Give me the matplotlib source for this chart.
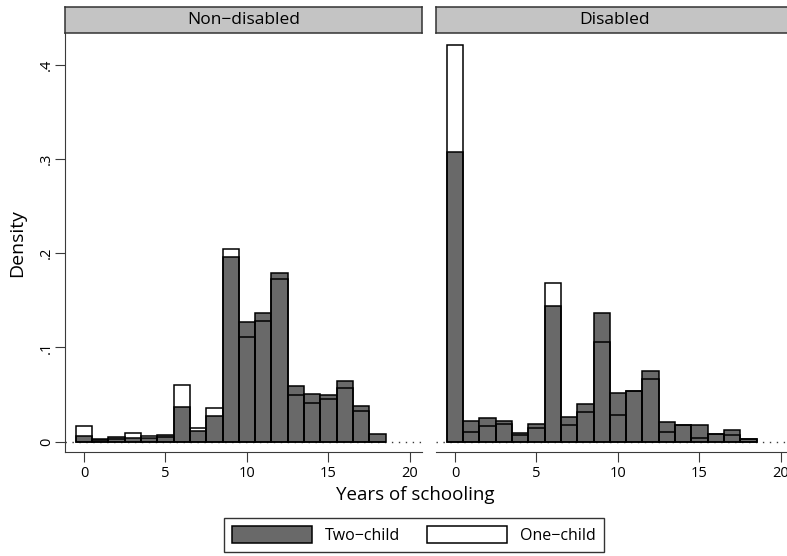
import matplotlib
matplotlib.use("Agg")
import matplotlib.pyplot as plt
from matplotlib.patches import Patch
import numpy as np

plt.rcParams['font.family'] = ['Open Sans', 'DejaVu Sans']

years = list(range(0, 19))
panels = ["Non\u2212disabled", "Disabled"]

nondis_two = [0.0064, 0.003, 0.0055, 0.0042, 0.0042, 0.0074, 0.037, 0.011, 0.027,
              0.1956, 0.1273, 0.1369, 0.1786, 0.0587, 0.0502, 0.0492, 0.064, 0.0375, 0.0081]
nondis_one = [0.017, 0.002, 0.0025, 0.0095, 0.0064, 0.0055, 0.0598, 0.015, 0.0354,
              0.2045, 0.1107, 0.128, 0.1726, 0.0492, 0.0407, 0.0449, 0.0566, 0.0329, 0.0]

dis_two = [0.3077, 0.0223, 0.0248, 0.0216, 0.0096, 0.0187, 0.1436, 0.0258, 0.0396,
           0.1362, 0.0513, 0.0534, 0.075, 0.0212, 0.0177, 0.0177, 0.0078, 0.0124, 0.0028]
dis_one = [0.4213, 0.0106, 0.017, 0.0184, 0.0071, 0.0141, 0.1687, 0.0173, 0.0315,
           0.1054, 0.0283, 0.0534, 0.0669, 0.0106, 0.0177, 0.0042, 0.0078, 0.0071, 0.0028]

xticks = [0, 5, 10, 15, 20]
yticks = [0, 0.1, 0.2, 0.3, 0.4]
ytick_labels = ["0", ".1", ".2", ".3", ".4"]

W, H = 787, 556
fig = plt.figure(figsize=(W / 100, H / 100), dpi=100)

def frac(x0, y0, x1, y1):
    return [x0 / W, 1 - y1 / H, (x1 - x0) / W, (y1 - y0) / H]

gray = '#696969'
axcol = '#3a3a3a'
data = [(nondis_two, nondis_one), (dis_two, dis_one)]
lefts = [65, 436]
width = 356.7

for i, (two, one) in enumerate(data):
    x0 = lefts[i]
    ax = fig.add_axes(frac(x0, 33.3, x0 + width, 452.3))
    ax.set_xlim(-1.166, 20.72)
    ax.set_ylim(-0.01125, 0.4335)
    ax.axhline(0, color=axcol, lw=1.0, ls=(0, (1, 4)), zorder=0)
    ax.bar(years, two, width=1, color=gray, edgecolor='black', lw=1.1, zorder=2)
    ax.bar(years, one, width=1, fill=False, edgecolor='black', lw=1.1, zorder=3)
    for s in ['top', 'right']:
        ax.spines[s].set_visible(False)
    ax.spines['bottom'].set_color(axcol)
    ax.spines['left'].set_color(axcol)
    ax.set_xticks(xticks)
    ax.set_xticklabels([str(t) for t in xticks])
    ax.tick_params(axis='x', length=7, color=axcol, labelsize=10.5, pad=3)
    if i == 0:
        ax.set_yticks(yticks)
        ax.set_yticklabels(ytick_labels, rotation=90, va='center')
        ax.tick_params(axis='y', length=7, color=axcol, labelsize=10.5, pad=1)
        ax.set_ylabel("Density", fontsize=14, labelpad=9)
    else:
        ax.spines['left'].set_visible(False)
        ax.set_yticks([])
    # header strip
    sax = fig.add_axes(frac(x0, 7.3, x0 + width, 33.3))
    sax.set_facecolor('#c4c4c4')
    sax.set_xticks([])
    sax.set_yticks([])
    for s in sax.spines.values():
        s.set_color('#333333')
        s.set_linewidth(1.1)
    sax.text(0.5, 0.5, panels[i], transform=sax.transAxes, ha='center', va='center', fontsize=12.5)

fig.text(415 / W, 1 - 495 / H, "Years of schooling", ha='center', va='center', fontsize=13.5)

handles = [Patch(facecolor=gray, edgecolor='black', lw=1.1, label="Two\u2212child"),
           Patch(facecolor='white', edgecolor='black', lw=1.1, label="One\u2212child")]
leg = fig.legend(handles=handles, loc='center', bbox_to_anchor=(414 / W, 1 - 535 / H), ncol=2,
                 fontsize=11.5, frameon=True, fancybox=False, handlelength=5.0, handleheight=1.3,
                 columnspacing=1.7, handletextpad=0.8, borderpad=0.5)
leg.get_frame().set_edgecolor('black')
leg.get_frame().set_linewidth(1.0)

fig.savefig("out.png", dpi=100)
